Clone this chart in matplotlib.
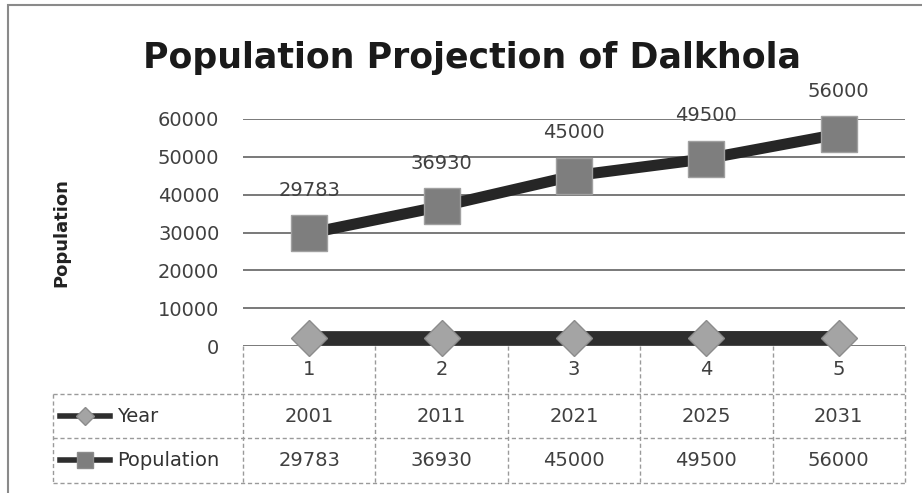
import numpy as np
import matplotlib.pyplot as plt
from matplotlib.lines import Line2D
from matplotlib.patches import Rectangle

# dados do grafico
categorias = [1, 2, 3, 4, 5]
anos = [2001, 2011, 2021, 2025, 2031]
populacao = [29783, 36930, 45000, 49500, 56000]
yticks = [0, 10000, 20000, 30000, 40000, 50000, 60000]
series_nomes = ['Year', 'Population']

W, H = 922, 493
fig = plt.figure(figsize=(W / 100, H / 100), dpi=100)
fig.patch.set_facecolor('white')

def fx(px):
    return px / W

def fy(py):
    return 1 - py / H

# moldura externa
fig.patches.append(Rectangle((fx(8), fy(H + 20)), 1.5, fy(5) - fy(H + 20),
                             transform=fig.transFigure, fill=False,
                             edgecolor='#8a8a8a', lw=1.5))

x0, x1, ytop, ybot = 243, 905, 119, 346
ax = fig.add_axes([fx(x0), fy(ybot), fx(x1) - fx(x0), fy(ytop) - fy(ybot)])
ax.set_xlim(0.5, 5.5)
ax.set_ylim(0, 60000)
for s in ax.spines.values():
    s.set_visible(False)
ax.set_yticks(yticks)
ax.set_yticklabels([str(v) for v in yticks], fontsize=14, color='#404040')
ax.set_xticks(categorias)
ax.set_xticklabels([str(c) for c in categorias], fontsize=14, color='#404040')
ax.tick_params(axis='y', length=0, pad=17)
ax.tick_params(axis='x', length=0, pad=10)
for v in yticks:
    ax.axhline(v, color='#555555', lw=1.1, zorder=1)

# serie Year (valores pequenos perto do zero)
ax.plot(categorias, anos, color='#2e2e2e', lw=10.5, zorder=3, clip_on=False,
        marker='D', markersize=18, markerfacecolor='#a4a4a4',
        markeredgecolor='#8c8c8c', markeredgewidth=1)
# serie Population
ax.plot(categorias, populacao, color='#262626', lw=8, zorder=4, clip_on=False,
        marker='s', markersize=26, markerfacecolor='#7e7e7e',
        markeredgecolor='#a0a0a0', markeredgewidth=1)
for c, p in zip(categorias, populacao):
    ax.annotate(str(p), (c, p), xytext=(0, 24), textcoords='offset points',
                ha='center', va='bottom', fontsize=14, color='#404040', zorder=5)

ax.set_ylabel('Population', fontsize=13, fontweight='bold', color='#222222')
ax.yaxis.set_label_coords((70 - x0) / (x1 - x0), 0.5)

fig.text(fx(472), fy(58), 'Population Projection of Dalkhola', ha='center',
         va='center', fontsize=25, fontweight='bold', color='#1a1a1a')

# tabela de dados
tx = fig.add_axes([fx(53), fy(483), fx(x1) - fx(53), fy(ybot) - fy(483)])
tx.set_xlim(0.5 - (x0 - 53) * 5 / (x1 - x0), 5.5)
tx.set_ylim(483, ybot)
tx.axis('off')
tx.patch.set_alpha(0)
grid_kw = dict(color='#9a9a9a', lw=1, ls=(0, (3, 2)))
xl = tx.get_xlim()[0]
for yy in (394, 438, 483):
    tx.plot([xl, 5.5], [yy, yy], clip_on=False, **grid_kw)
tx.plot([xl, xl], [394, 483], clip_on=False, **grid_kw)
for b in np.arange(0.5, 6.0, 1.0):
    tx.plot([b, b], [ybot, 483], clip_on=False, **grid_kw)

linhas = [anos, populacao]
centros = [416, 460]
icones = [dict(marker='D', markersize=9, markerfacecolor='#a4a4a4'),
          dict(marker='s', markersize=11, markerfacecolor='#7e7e7e')]
ux = 5 / (x1 - x0)
for nome, valores, yc, ic in zip(series_nomes, linhas, centros, icones):
    tx.add_line(Line2D([xl + 7 * ux, xl + 57 * ux], [yc, yc], color='#2e2e2e',
                       lw=4, clip_on=False))
    tx.plot([xl + 32 * ux], [yc], color='#2e2e2e', markeredgecolor='#8c8c8c',
            clip_on=False, **ic)
    tx.text(xl + 64 * ux, yc, nome, ha='left', va='center', fontsize=14,
            color='#333333')
    for c, v in zip(categorias, valores):
        tx.text(c, yc, str(v), ha='center', va='center', fontsize=14,
                color='#404040')

fig.savefig('out.png', dpi=100)
